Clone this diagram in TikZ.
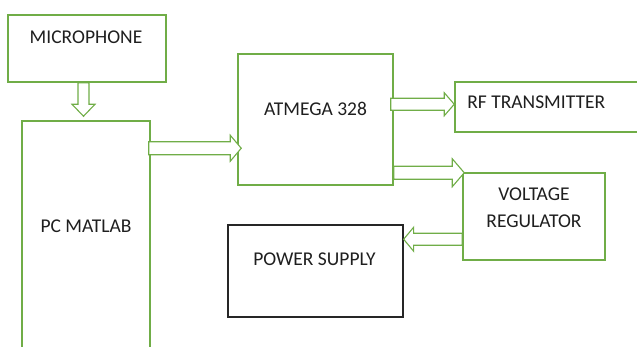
\documentclass[tikz,border=0pt]{standalone}
\usepackage{fontspec}
\setmainfont{Carlito}
\usetikzlibrary{calc}
\definecolor{og}{HTML}{70AD47}
\tikzset{
  gbox/.style={draw=og, line width=1.5pt, fill=white, inner sep=0pt},
  kbox/.style={draw=black!85, line width=1.3pt, fill=white, inner sep=0pt},
  lbl/.style={font=\fontsize{19.5}{27}\selectfont, text=black!88, inner sep=0pt, align=center},
  barrow/.style={draw=og, line width=1.1pt, fill=white, line join=miter}
}
% horizontal block arrow: start, tip, shaft half width, head half width, head length
\newcommand\harr[5]{\draw[barrow] let \p1=(#1),\p2=(#2),\n1={sign(\x2-\x1)*#5} in
  (\x1,\y1+#3) -- (\x2-\n1,\y1+#3) -- (\x2-\n1,\y1+#4) -- (\x2,\y1) --
  (\x2-\n1,\y1-#4) -- (\x2-\n1,\y1-#3) -- (\x1,\y1-#3) -- cycle;}
% vertical block arrow
\newcommand\varr[5]{\draw[barrow] let \p1=(#1),\p2=(#2),\n1={sign(\y2-\y1)*#5} in
  (\x1+#3,\y1) -- (\x1+#3,\y2-\n1) -- (\x1+#4,\y2-\n1) -- (\x1,\y2) --
  (\x1-#4,\y2-\n1) -- (\x1-#3,\y2-\n1) -- (\x1-#3,\y1) -- cycle;}
\begin{document}
\begin{tikzpicture}[x=1pt,y=-1pt]
\path[use as bounding box, clip] (0,0) rectangle (637,347);
% boxes
\node[gbox, minimum width=158pt, minimum height=67pt] (mic) at (87,48.5) {};
\node[gbox, minimum width=128pt, minimum height=239pt] (pc) at (86,240.5) {};
\node[gbox, minimum width=155pt, minimum height=131pt] (atm) at (315.5,119.5) {};
\node[gbox, minimum width=190pt, minimum height=50pt] (rf) at (550,107) {};
\node[gbox, minimum width=142pt, minimum height=87pt] (vr) at (534,216.5) {};
\node[kbox, minimum width=175pt, minimum height=92pt] (ps) at (315.5,271) {};
% labels
\node[lbl] (micT) at ($(mic.north)+(-1,23)$) {MICROPHONE};
\node[lbl] (pcT) at ($(pc.north)+(0,106)$) {PC MATLAB};
\node[lbl] (atmT) at ($(atm.north)+(0,56)$) {ATMEGA 328};
\node[lbl] (rfT) at ($(rf.north west)+(82,21)$) {RF TRANSMITTER};
\node[lbl] (vrT) at ($(vr.north)+(0,35)$) {VOLTAGE\\REGULATOR};
\node[lbl] (psT) at ($(ps.north)+(-1,35)$) {POWER SUPPLY};
% arrow end points
\coordinate (m1) at ($(mic.south)+(-3.5,0)$);
\coordinate (m2) at ($(pc.north)+(-2.5,-4)$);
\coordinate (p1) at ($(pc.north east)+(-2,28)$);
\coordinate (p2) at ($(atm.north west)+(4,95)$);
\coordinate (r1) at ($(atm.north east)+(-3,51)$);
\coordinate (r2) at (rf.west |- r1);
\coordinate (v1) at ($(atm.north east)+(0,119.5)$);
\coordinate (v2) at ($(vr.north west)+(2,0.5)$);
\coordinate (s1) at ($(vr.north west)+(0,67)$);
\coordinate (s2) at (ps.east |- s1);
% block arrows
\varr{m1}{m2}{5.5pt}{11.5pt}{12pt}
\harr{p1}{p2}{6.5pt}{13pt}{11pt}
\harr{r1}{r2}{6pt}{11.5pt}{10pt}
\harr{v1}{v2}{6.5pt}{14pt}{12pt}
\harr{s1}{s2}{6pt}{12pt}{10pt}
\end{tikzpicture}
\end{document}
